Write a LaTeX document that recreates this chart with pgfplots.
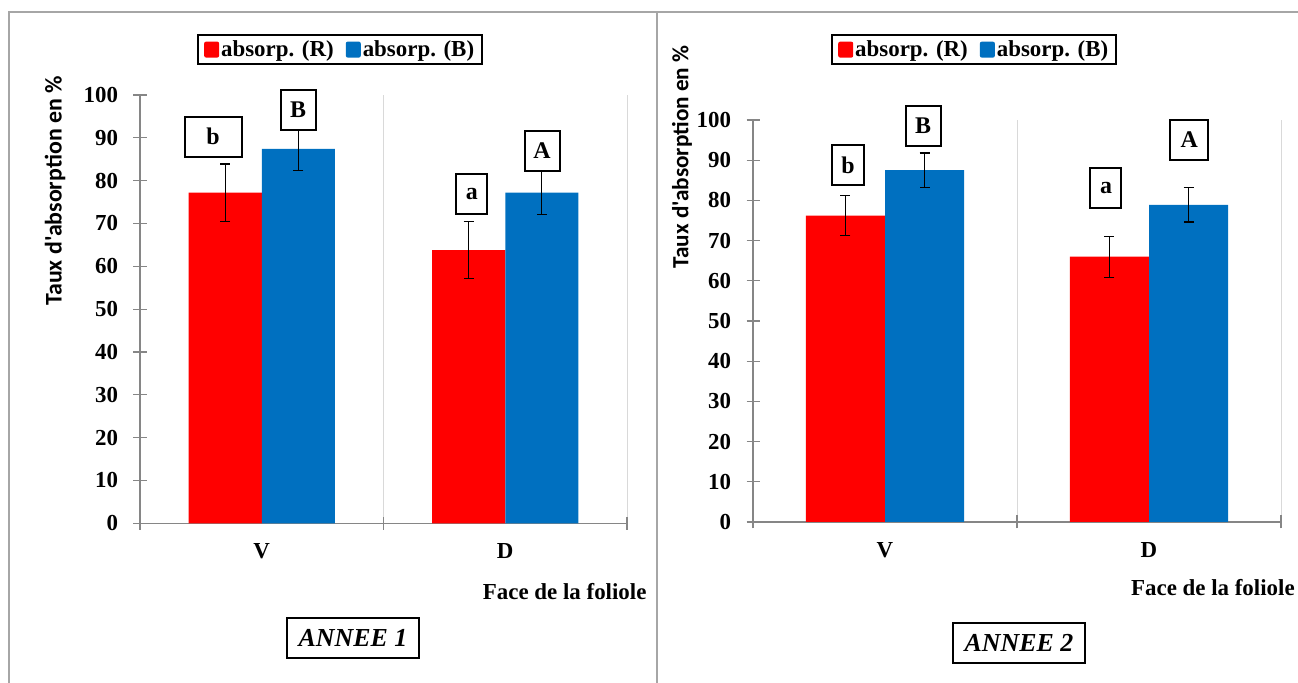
\documentclass[border=0pt]{standalone}
\usepackage{pgfplots}
\pgfplotsset{compat=1.18}
\usepackage{fontspec}
\setmainfont{Liberation Serif}
\newfontfamily\calibri{Carlito}
\definecolor{cRed}{HTML}{FF0000}
\definecolor{cBlue}{HTML}{0070C0}
\definecolor{axgray}{HTML}{868686}
\definecolor{gridgray}{HTML}{D9D9D9}
\definecolor{framegray}{HTML}{A6A6A6}
\newcommand{\fs}[1]{\fontsize{#1}{#1}\selectfont}

\pgfplotstableread{
x  R     Re   B     Be
0  77.2  6.7  87.4  5.1
1  63.8  6.7  77.2  5.1
}\anneeA
\pgfplotstableread{
x  R     Re   B     Be
0  76.2  5.0  87.5  4.3
1  66.0  5.1  78.9  4.3
}\anneeB

\tikzset{
  lbox/.style={draw=black, line width=2bp, fill=white, font=\bfseries\fs{24},
    minimum width=35bp, minimum height=40bp, inner sep=0pt},
}
\pgfplotsset{
  mystyle/.style={
    scale only axis, clip=false,
    ybar=0pt, bar width=0.3,
    xmin=-0.5, xmax=1.5, ymin=0, ymax=100,
    xtick={-0.5,0.5,1.5}, xticklabels={},
    xmajorgrids, major x grid style={gridgray, line width=1bp},
    extra x ticks={0,1}, extra x tick labels={V,D},
    extra x tick style={grid=none, tick style={draw=none},
      xticklabel style={yshift=-10bp}},
    ytick={0,10,...,100},
    tick align=center, major tick length=13bp,
    axis x line*=bottom, axis y line*=left,
    axis line style={axgray, line width=1.3bp},
    tick style={axgray, line width=1.2bp},
    tick label style={font=\bfseries\fs{23}},
    yticklabel style={xshift=-12bp},
    /pgf/number format/assume math mode=true,
    xlabel style={font=\bfseries\fs{23}, anchor=center},
    ylabel style={font=\calibri\bfseries\fs{24}, anchor=center},
    legend style={draw=black, line width=2bp, fill=white,
      font=\bfseries\fs{23}, legend columns=2,
      inner xsep=6bp, inner ysep=4bp, anchor=center,
      /tikz/every even column/.append style={column sep=10bp}},
    legend image code/.code={\fill[#1, rounded corners=2bp] (0bp,-8bp) rectangle (15bp,8bp);},
    error bars/y dir=both, error bars/y explicit,
    error bars/error bar style={draw=black, line width=1.3bp},
    error bars/error mark options={draw=black, rotate=90, mark size=5bp, line width=1.3bp},
  },
}

\begin{document}
\begin{tikzpicture}
\useasboundingbox (0,0) rectangle (1298bp,683bp);
\draw[framegray, line width=1.5bp] (9bp,0) -- (9bp,671bp) -- (1298bp,671bp);
\draw[framegray, line width=1.5bp] (657bp,0) -- (657bp,671bp);

\begin{axis}[mystyle, at={(140bp,159.7bp)}, anchor=south west,
  width=487bp, height=428.3bp,
  xlabel={Face de la foliole},
  xlabel style={at={(axis description cs:0.872,-0.160)}},
  ylabel={Taux d'absorption en \%},
  ylabel style={at={(axis description cs:-0.1745,0.776)}},
  legend style={at={(0.411,1.106)}}]
\addplot[fill=cRed, draw=none] table[x=x, y=R, y error=Re] {\anneeA};
\addplot[fill=cBlue, draw=none] table[x=x, y=B, y error=Be] {\anneeA};
\legend{absorp. (R), absorp. (B)}
\node[lbox, minimum width=57bp] at (axis cs:-0.20,90.3) {b};
\node[lbox] at (axis cs:0.149,96.6) {B};
\node[lbox, minimum width=31bp] at (axis cs:0.863,76.9) {a};
\node[lbox] at (axis cs:1.151,87.0) {A};
\end{axis}

\begin{axis}[mystyle, at={(753bp,161bp)}, anchor=south west,
  width=528bp, height=402bp,
  xlabel={Face de la foliole},
  xlabel style={at={(axis description cs:0.871,-0.162)}},
  ylabel={Taux d'absorption en \%},
  ylabel style={at={(axis description cs:-0.1345,0.908)}, font=\calibri\bfseries\fs{23.3}},
  legend style={at={(0.419,1.175)}}]
\addplot[fill=cRed, draw=none] table[x=x, y=R, y error=Re] {\anneeB};
\addplot[fill=cBlue, draw=none] table[x=x, y=B, y error=Be] {\anneeB};
\legend{absorp. (R), absorp. (B)}
\node[lbox, minimum width=32bp] at (axis cs:-0.14,88.8) {b};
\node[lbox] at (axis cs:0.144,98.5) {B};
\node[lbox, minimum width=31bp] at (axis cs:0.837,83.1) {a};
\node[lbox, minimum width=38bp] at (axis cs:1.152,95.0) {A};
\end{axis}

\node[draw=black, line width=2bp, minimum width=132bp, minimum height=40bp,
  inner sep=0pt, font=\bfseries\itshape\fs{26}] at (353bp,45bp) {ANNEE 1};
\node[draw=black, line width=2bp, minimum width=132bp, minimum height=40bp,
  inner sep=0pt, font=\bfseries\itshape\fs{26}] at (1019bp,40bp) {ANNEE 2};
\end{tikzpicture}
\end{document}
